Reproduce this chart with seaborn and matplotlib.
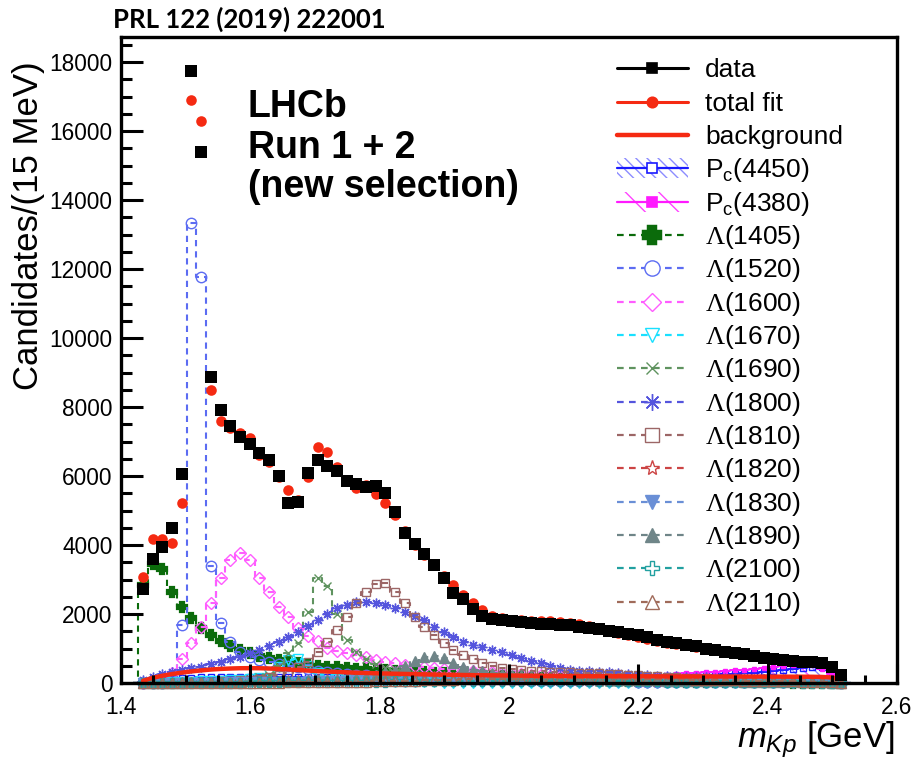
import numpy as np
import matplotlib
matplotlib.use("Agg")
import matplotlib.pyplot as plt
from matplotlib.lines import Line2D
from matplotlib.patches import Rectangle
from matplotlib.ticker import MultipleLocator
import seaborn as sns

sns.set_style("white")
plt.rcParams.update({
    "font.family": ["Liberation Sans", "DejaVu Sans"],
    "mathtext.fontset": "custom",
    "mathtext.rm": "Liberation Serif",
    "mathtext.it": "Liberation Sans:italic",
    "mathtext.sf": "Liberation Sans",
    "mathtext.bf": "Liberation Sans:bold",
    "hatch.linewidth": 1.0,
    "text.color": "black",
    "axes.labelcolor": "black",
    "xtick.color": "black",
    "ytick.color": "black",
    "axes.edgecolor": "black",
})

# ---- m(Kp) histogram, 15 MeV bins from the K p threshold -------------------
bin_lo = 1.4265
bin_width = 0.015
n_bins = 73
mass = bin_lo + bin_width * (np.arange(n_bins) + 0.5)

data_counts = [
    2720, 3590, 3950, 4490, 6050, 17750, 15400, 8880, 7900, 7450,
    7140, 6920, 6660, 6460, 6010, 5220, 5260, 6080, 6470, 6290,
    6150, 5860, 5770, 5670, 5710, 5520, 4970, 4340, 4030, 3730,
    3420, 3040, 2620, 2430, 2140, 1940, 1850, 1830, 1790, 1760,
    1740, 1720, 1700, 1690, 1670, 1620, 1590, 1560, 1510, 1470,
    1420, 1380, 1320, 1260, 1190, 1150, 1110, 1060, 1000, 960,
    910, 870, 840, 790, 730, 690, 665, 630, 610, 600,
    580, 460, 230]

fit_counts = [
    3060, 4170, 4170, 4050, 5210, 16900, 16280, 8490, 7580, 7380,
    7240, 7090, 6610, 6420, 5980, 5590, 5300, 5980, 6830, 6710,
    6270, 5880, 5640, 5730, 5480, 5230, 4870, 4410, 4000, 3700,
    3460, 3100, 2840, 2550, 2330, 2120, 1950, 1880, 1840, 1820,
    1810, 1810, 1800, 1780, 1750, 1700, 1640, 1580, 1510, 1450,
    1390, 1330, 1270, 1220, 1170, 1130, 1090, 1050, 1000, 960,
    920, 880, 840, 800, 760, 720, 690, 660, 630, 610,
    590, 480, 240]

background = [
    60, 150, 210, 260, 300, 335, 365, 390, 408, 420,
    428, 430, 428, 420, 408, 392, 376, 360, 345, 332,
    320, 308, 298, 290, 282, 275, 268, 262, 256, 250,
    245, 240, 236, 232, 228, 225, 222, 219, 216, 213,
    210, 208, 206, 204, 202, 200, 199, 198, 197, 196,
    195, 194, 193, 192, 191, 190, 190, 189, 189, 188,
    188, 187, 187, 186, 186, 185, 184, 183, 182, 180,
    175, 160, 110]

pc4450 = [
    40, 80, 110, 130, 145, 155, 160, 163, 165, 167,
    168, 169, 170, 170, 170, 170, 170, 170, 170, 170,
    170, 170, 170, 170, 170, 170, 170, 170, 170, 170,
    170, 170, 170, 170, 170, 170, 170, 170, 170, 170,
    171, 172, 173, 174, 175, 176, 177, 178, 180, 182,
    185, 188, 192, 196, 200, 206, 212, 220, 228, 238,
    250, 265, 282, 300, 322, 346, 372, 400, 430, 460,
    475, 300, 100]

pc4380 = [
    20, 40, 55, 65, 72, 76, 78, 80, 80, 80,
    80, 80, 80, 80, 80, 80, 80, 80, 80, 80,
    80, 80, 80, 80, 80, 80, 80, 80, 80, 80,
    82, 84, 86, 88, 90, 93, 96, 100, 104, 108,
    113, 118, 124, 130, 137, 144, 152, 160, 170, 180,
    192, 204, 216, 230, 245, 260, 276, 292, 310, 328,
    348, 368, 390, 412, 436, 460, 485, 510, 535, 520,
    420, 250, 80]

lam1405 = [
    2850, 3450, 3300, 2650, 2210, 1880, 1600, 1390, 1230, 1080,
    970, 870, 790, 720, 660, 610, 570, 530, 500, 475,
    450, 430, 415, 400, 385, 370, 355, 340, 325, 310,
    295, 280, 265, 250, 235, 220, 205, 190, 178, 166,
    155, 145, 135, 125, 116, 108, 100, 92, 85, 78,
    72, 66, 60, 55, 50, 46, 42, 38, 35, 32,
    29, 26, 24, 22, 20, 18, 16, 14, 12, 10,
    8, 6, 4]

lam1520 = [
    0, 0, 0, 40, 1680, 13320, 11760, 3390, 1730, 1200,
    900, 760, 680, 620, 560, 500, 450, 400, 360, 320,
    290, 260, 240, 220, 200, 185, 170, 155, 145, 135,
    125, 117, 110, 103, 97, 91, 86, 81, 77, 73,
    69, 66, 63, 60, 57, 54, 52, 50, 48, 46,
    44, 42, 40, 38, 37, 36, 35, 34, 33, 32,
    31, 30, 29, 28, 27, 26, 25, 24, 23, 22,
    20, 15, 8]

lam1600 = [
    0, 40, 120, 300, 700, 1150, 1630, 2310, 3030, 3560,
    3780, 3560, 3030, 2650, 2200, 1900, 1600, 1370, 1220, 1010,
    930, 860, 800, 740, 680, 620, 570, 520, 480, 450,
    425, 410, 397, 370, 345, 320, 305, 290, 275, 260,
    245, 230, 215, 200, 190, 180, 170, 160, 150, 140,
    130, 125, 120, 115, 110, 105, 100, 95, 90, 85,
    80, 76, 72, 68, 64, 60, 56, 52, 48, 44,
    40, 30, 15]

lam1670 = [
    0, 0, 10, 20, 30, 40, 50, 60, 70, 80,
    90, 110, 150, 250, 450, 680, 690, 500, 280, 160,
    110, 85, 65, 52, 42, 35, 30, 25, 21, 18,
    15, 12, 10, 8, 6, 5, 4, 3, 2, 1,
    0, 0, 0, 0, 0, 0, 0, 0, 0, 0,
    0, 0, 0, 0, 0, 0, 0, 0, 0, 0,
    0, 0, 0, 0, 0, 0, 0, 0, 0, 0,
    0, 0, 0]

lam1690 = [
    0, 0, 0, 10, 20, 30, 40, 50, 60, 80,
    100, 130, 170, 220, 500, 860, 1150, 2050, 3050, 2800,
    2000, 1250, 900, 690, 540, 440, 370, 310, 265, 230,
    200, 175, 155, 138, 124, 112, 102, 93, 85, 78,
    72, 66, 61, 56, 52, 48, 45, 42, 39, 36,
    34, 32, 30, 28, 26, 24, 22, 21, 20, 19,
    18, 17, 16, 15, 14, 13, 12, 11, 10, 9,
    8, 6, 3]

lam1800 = [
    100, 170, 250, 320, 380, 440, 475, 540, 617, 690,
    762, 860, 957, 1080, 1200, 1340, 1490, 1650, 1830, 2000,
    2165, 2265, 2357, 2357, 2310, 2261, 2165, 2067, 1942, 1826,
    1632, 1487, 1342, 1197, 1101, 1030, 960, 900, 810, 720,
    640, 570, 500, 430, 390, 360, 340, 325, 305, 285,
    265, 245, 230, 215, 205, 195, 185, 175, 165, 158,
    150, 142, 135, 128, 120, 112, 104, 96, 88, 80,
    70, 50, 25]

lam1810 = [
    0, 0, 0, 0, 10, 20, 30, 40, 50, 65,
    80, 100, 130, 170, 220, 300, 450, 620, 907, 1200,
    1536, 1922, 2327, 2646, 2870, 2890, 2646, 2327, 1922, 1632,
    1391, 1150, 957, 812, 687, 571, 493, 440, 400, 370,
    350, 340, 330, 320, 310, 300, 290, 280, 265, 250,
    235, 220, 205, 190, 178, 166, 155, 145, 135, 125,
    116, 108, 100, 92, 85, 78, 71, 64, 57, 50,
    40, 28, 14]

lam1820 = [
    0, 0, 5, 10, 15, 20, 25, 30, 35, 40,
    45, 50, 55, 60, 70, 80, 90, 100, 110, 120,
    130, 145, 160, 175, 190, 200, 210, 215, 220, 215,
    205, 195, 180, 165, 150, 140, 130, 120, 110, 100,
    95, 90, 85, 80, 75, 70, 65, 60, 55, 50,
    48, 46, 44, 42, 40, 38, 36, 34, 32, 30,
    28, 26, 24, 22, 20, 18, 16, 14, 12, 10,
    8, 6, 3]

lam1830 = [
    0, 0, 0, 2, 4, 6, 8, 10, 12, 15,
    18, 21, 24, 28, 32, 36, 40, 45, 50, 56,
    62, 70, 78, 86, 94, 100, 106, 110, 112, 110,
    106, 100, 94, 88, 82, 76, 70, 64, 58, 53,
    48, 44, 40, 36, 32, 29, 26, 23, 20, 18,
    16, 14, 12, 10, 9, 8, 7, 6, 5, 4,
    4, 3, 3, 2, 2, 2, 1, 1, 1, 1,
    0, 0, 0]

lam1890 = [
    0, 0, 0, 5, 10, 15, 20, 25, 30, 35,
    40, 45, 50, 55, 60, 65, 70, 75, 80, 90,
    100, 120, 150, 180, 220, 280, 350, 480, 650, 760,
    780, 716, 571, 460, 390, 340, 300, 270, 245, 222,
    202, 185, 170, 157, 145, 134, 124, 115, 107, 100,
    93, 87, 81, 76, 71, 66, 62, 58, 54, 50,
    47, 44, 41, 38, 35, 32, 29, 26, 23, 20,
    16, 11, 5]

lam2100 = [
    0, 0, 1, 2, 3, 4, 5, 6, 8, 10,
    12, 14, 16, 18, 20, 22, 24, 26, 28, 30,
    32, 34, 36, 38, 40, 42, 44, 46, 48, 50,
    52, 54, 56, 58, 60, 61, 62, 63, 64, 64,
    64, 64, 63, 62, 61, 60, 58, 56, 54, 52,
    50, 48, 46, 44, 42, 40, 38, 36, 34, 32,
    30, 28, 26, 24, 22, 20, 18, 16, 14, 12,
    10, 6, 2]

lam2110 = [
    0, 0, 0, 0, 0, 1, 2, 3, 4, 5,
    6, 8, 10, 12, 14, 16, 18, 20, 23, 26,
    30, 34, 38, 43, 48, 54, 60, 66, 72, 78,
    84, 90, 96, 102, 108, 113, 118, 122, 126, 130,
    133, 136, 138, 140, 140, 140, 139, 137, 135, 132,
    129, 125, 121, 117, 112, 107, 102, 97, 92, 87,
    82, 77, 72, 67, 62, 57, 52, 47, 42, 36,
    28, 18, 8]

# ---- styles -----------------------------------------------------------------
RED = "#f52a12"
DASH = (0, (3.0, 2.4))

# label, values, colour, marker, filled, marker size
lambda_styles = [
    (r"$\Lambda$(1405)", lam1405, "#0b6b0b", "P", True, 6.5),
    (r"$\Lambda$(1520)", lam1520, "#5c6cf2", "o", False, 7.5),
    (r"$\Lambda$(1600)", lam1600, "#ff5cff", "D", False, 5.8),
    (r"$\Lambda$(1670)", lam1670, "#19e0ff", "v", False, 6.5),
    (r"$\Lambda$(1690)", lam1690, "#5f935f", "x", False, 6.0),
    (r"$\Lambda$(1800)", lam1800, "#5555dd", (8, 2, 0), False, 7.0),
    (r"$\Lambda$(1810)", lam1810, "#9c6666", "s", False, 6.2),
    (r"$\Lambda$(1820)", lam1820, "#cc4444", "*", False, 7.0),
    (r"$\Lambda$(1830)", lam1830, "#6a8fd6", "v", True, 6.5),
    (r"$\Lambda$(1890)", lam1890, "#6f8588", "^", True, 6.5),
    (r"$\Lambda$(2100)", lam2100, "#22a0a0", "P", False, 6.5),
    (r"$\Lambda$(2110)", lam2110, "#a06b5a", "^", False, 6.5),
]

for arr in [data_counts, fit_counts, background, pc4450, pc4380] + [s[1] for s in lambda_styles]:
    assert len(arr) == n_bins, len(arr)

W, H = 915, 761
fig = plt.figure(figsize=(W / 100, H / 100), dpi=100)
ax = fig.add_axes([121 / W, 1 - 683 / H, (897 - 121) / W, (683 - 37) / H])

x_pad = np.concatenate([[mass[0] - bin_width], mass, [mass[-1] + bin_width]])


def padded(vals):
    return np.concatenate([[0.0], np.asarray(vals, float), [0.0]])


def step_curve(vals, color, marker, filled, ms, ls=DASH, lw=1.5, mew=1.0, zorder=3):
    sns.lineplot(x=x_pad, y=padded(vals), ax=ax, color=color, linestyle=ls,
                 linewidth=lw, drawstyle="steps-mid", marker=marker, markersize=ms,
                 markerfacecolor=color if filled else "none", markeredgecolor=color,
                 markeredgewidth=mew, markevery=slice(1, -1), estimator=None,
                 sort=False, clip_on=False, zorder=zorder, legend=False)


# P_c reflections: hatched bands under the curves
ax.fill_between(x_pad, 0, padded(pc4450), step="mid", facecolor="none",
                edgecolor="#8c8cff", hatch="\\\\\\", linewidth=0, zorder=2)
ax.fill_between(x_pad, 0, padded(pc4380), step="mid", facecolor="none",
                edgecolor="#ff66ff", hatch="\\", linewidth=0, zorder=2)
step_curve(pc4450, "#1a1aff", "s", False, 4.0, ls="-", lw=1.4)
step_curve(pc4380, "#ff1aff", "s", True, 3.5, ls="-", lw=1.4)

for label, vals, color, marker, filled, ms in lambda_styles:
    mew = 1.6 if marker == "P" and filled else 1.0
    step_curve(vals, color, marker, filled, ms, mew=mew)

sns.lineplot(x=mass, y=background, ax=ax, color=RED, linewidth=3.2,
             estimator=None, sort=False, zorder=4, legend=False)
sns.scatterplot(x=mass, y=fit_counts, ax=ax, marker="o", s=58, color=RED,
                linewidth=0, zorder=5, legend=False)
sns.scatterplot(x=mass, y=data_counts, ax=ax, marker="s", s=64, color="black",
                linewidth=0, zorder=6, legend=False)

# ---- axes ---------------------------------------------------------------------
ax.set_xlim(1.4, 2.6)
ax.set_ylim(0, 18725)
ax.xaxis.set_major_locator(MultipleLocator(0.2))
ax.xaxis.set_minor_locator(MultipleLocator(0.05))
ax.yaxis.set_major_locator(MultipleLocator(2000))
ax.yaxis.set_minor_locator(MultipleLocator(500))
ax.set_xticks(np.round(np.arange(1.4, 2.61, 0.2), 1))
ax.set_xticklabels(["1.4", "1.6", "1.8", "2", "2.2", "2.4", "2.6"])
ax.tick_params(axis="both", which="both", direction="in", bottom=True, left=True,
               top=False, right=False, width=2.2, color="black",
               labelsize=16.3, labelcolor="black")
ax.xaxis.set_tick_params(which="major", length=14, pad=9)
ax.xaxis.set_tick_params(which="minor", length=6)
ax.yaxis.set_tick_params(which="major", length=15.5, pad=6)
ax.yaxis.set_tick_params(which="minor", length=8)
# frame and ticks drawn over the histograms
ax.xaxis.set_zorder(20)
ax.yaxis.set_zorder(20)
for sp in ax.spines.values():
    sp.set_linewidth(2.4)
    sp.set_color("black")
    sp.set_visible(True)
    sp.set_zorder(21)
ax.set_xlabel("")
ax.set_ylabel("")


def fx(px):
    return px / W


def fy(py):
    return 1 - py / H


fig.text(fx(29), fy(61), "Candidates/(15 MeV)", rotation=90, ha="center", va="top",
         fontsize=25)
fig.text(fx(895), fy(747), r"$m_{Kp}$ [GeV]", ha="right", va="baseline", fontsize=25)
fig.text(fx(113), fy(28), "PRL 122 (2019) 222001", family="Lato", weight="bold",
         fontsize=18.5, va="baseline", ha="left")

for txt, base in [("LHCb", 117), ("Run 1 + 2", 158), ("(new selection)", 197)]:
    fig.text(fx(248), fy(base), txt, fontsize=27, weight="bold", va="baseline", ha="left")

# ---- legend -------------------------------------------------------------------
row0, row_step = 68.3, 33.33
lx0, lx1, lxm, ltext = 617, 688, 652, 705


def legend_line(i, color, ls="-", lw=2.2, marker=None, ms=7, filled=True, mew=1.2, x1=lx1):
    y = fy(row0 + row_step * i)
    fig.add_artist(Line2D([fx(lx0), fx(x1)], [y, y], color=color, linestyle=ls, linewidth=lw))
    if marker is not None:
        fig.add_artist(Line2D([fx(lxm)], [y], color=color, marker=marker, markersize=ms,
                              markerfacecolor=color if filled else "white",
                              markeredgecolor=color, markeredgewidth=mew, linestyle="none"))


def legend_hatch(i, color, hatch):
    y = row0 + row_step * i
    fig.add_artist(Rectangle((fx(lx0), fy(y + 10)), fx(lx1) - fx(lx0), (20 / H),
                             facecolor="none", edgecolor=color, hatch=hatch, linewidth=0))


def legend_text(i, txt):
    fig.text(fx(ltext), fy(row0 + row_step * i + 9), txt, fontsize=19, va="baseline", ha="left")


legend_line(0, "black", marker="s", ms=7.5)
legend_text(0, "data")
legend_line(1, RED, marker="o", ms=7.5)
legend_text(1, "total fit")
legend_line(2, RED, lw=3.2)
legend_text(2, "background")
legend_hatch(3, "#8c8cff", "\\\\\\")
legend_line(3, "#1a1aff", lw=1.6, marker="s", ms=7.5, filled=False)
legend_text(3, r"P$_{\mathsf{c}}$(4450)")
legend_hatch(4, "#ff44ff", "\\")
legend_line(4, "#ff1aff", lw=1.6, marker="s", ms=7.5)
legend_text(4, r"P$_{\mathsf{c}}$(4380)")
legend_ms = [11, 11, 9, 10, 9, 12, 9.5, 11, 10, 10, 10, 10]
for j, (label, vals, color, marker, filled, ms) in enumerate(lambda_styles):
    i = 5 + j
    mew = 3.2 if marker == "P" and filled else 1.0
    legend_line(i, color, ls=DASH, lw=1.6, marker=marker, ms=legend_ms[j], filled=filled,
                mew=mew, x1=684)
    legend_text(i, label)

fig.savefig("out.png", dpi=100)
